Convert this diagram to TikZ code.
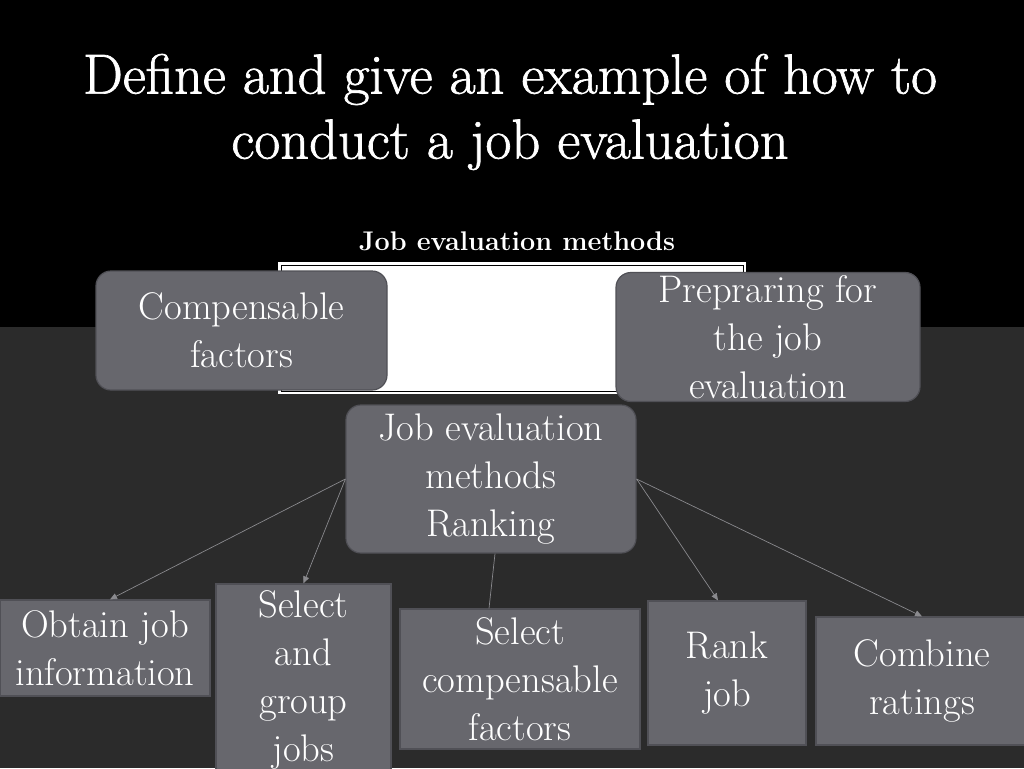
\documentclass[tikz,border=0pt]{standalone}
\usepackage{fontspec}
\newfontfamily\titlefont[FakeBold=1.2]{Latin Modern Roman}
\usetikzlibrary{arrows.meta}
\definecolor{boxfill}{HTML}{67676D}
\definecolor{boxline}{HTML}{505056}
\definecolor{bgdark}{HTML}{2B2B2B}
\definecolor{linkgray}{HTML}{8A8A8E}
\tikzset{
  body/.style={font=\fontsize{38.5}{48}\selectfont, text=white, align=center, inner sep=0pt},
  roundbox/.style={body, fill=boxfill, draw=boxline, line width=1.2pt, rounded corners=15pt},
  squarebox/.style={body, fill=boxfill, draw=boxline, line width=1.2pt},
  link/.style={draw=linkgray, line width=0.7pt, -{Triangle[length=7pt,width=6pt]}},
  plainlink/.style={draw=linkgray, line width=0.7pt}
}
\begin{document}
\begin{tikzpicture}[x=1pt,y=-1pt]
\useasboundingbox (0,0) rectangle (1024,768);
\begin{scope}
\clip (0,0) rectangle (1024,768);
\fill[black] (0,0) rectangle (1024,327);
\fill[bgdark] (0,327) rectangle (1024,768);
% title
\node[text=white, align=center, font=\titlefont\fontsize{56.5}{65}\selectfont] (title) at (510,112)
  {Define and give an example of how to\\conduct a job evaluation};
\node[text=white, font=\fontsize{27}{30}\selectfont\bfseries] (heading) at (517,241) {Job evaluation methods};
% white frame
\fill[white] (278,262) rectangle (746,394);
\draw[black, line width=0.6pt] (281,265) rectangle (743,391);
% top boxes
\node[roundbox, minimum width=291pt, minimum height=119pt] (comp) at (241.5,330.5) {Compensable\\factors};
\node[roundbox, minimum width=304pt, minimum height=129pt] (prep) at (768,337) {Prepraring for\\the job\\evaluation};
\node[roundbox, minimum width=290pt, minimum height=148pt] (rank) at (491,479) {Job evaluation\\methods\\Ranking};
% bottom boxes
\node[squarebox, minimum width=210pt, minimum height=96pt] (obtain) at (105,648) {Obtain job\\information};
\node[squarebox, minimum width=175pt, minimum height=200pt] (group) at (303.5,684) {};
\node[body] (grouptext) at (303.5,680) {Select\\and\\group\\jobs};
\node[squarebox, minimum width=240pt, minimum height=140pt] (selcomp) at (520,679) {Select\\compensable\\factors};
\node[squarebox, minimum width=158pt, minimum height=144pt] (rankjob) at (727,673) {Rank\\job};
\node[squarebox, minimum width=212pt, minimum height=128pt] (combine) at (922,681) {Combine\\ratings};
% connectors
\draw[link] (rank.west) -- ([xshift=5pt]obtain.north);
\draw[link] (rank.west) -- (group.north);
\draw[plainlink] ([xshift=4pt]rank.south) -- ([xshift=-31pt]selcomp.north);
\draw[link] (rank.east) -- ([xshift=-9pt]rankjob.north);
\draw[link] (rank.east) -- (combine.north);
\end{scope}
\end{tikzpicture}
\end{document}
